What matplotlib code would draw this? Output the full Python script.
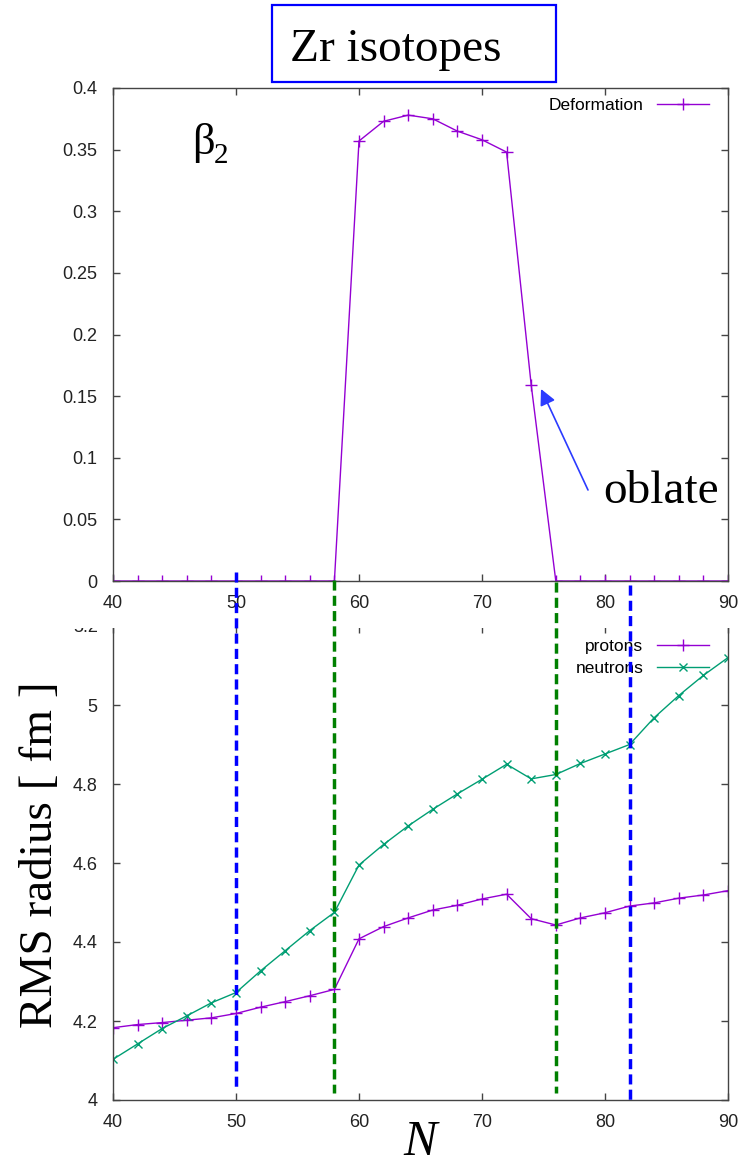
import matplotlib
matplotlib.use("Agg")
import matplotlib.pyplot as plt
from matplotlib.patches import Rectangle
from matplotlib.lines import Line2D

# neutron numbers of the Zr chain
N = list(range(40, 92, 2))

beta2 = [0, 0, 0, 0, 0, 0, 0, 0, 0, 0,
         0.357, 0.373, 0.378, 0.375, 0.365, 0.358, 0.348, 0.159, 0,
         0, 0, 0, 0, 0, 0, 0]

r_protons = [4.183, 4.191, 4.196, 4.202, 4.208, 4.219, 4.235, 4.249, 4.264, 4.280,
             4.408, 4.439, 4.461, 4.481, 4.493, 4.509, 4.521, 4.459, 4.443,
             4.461, 4.474, 4.491, 4.499, 4.511, 4.519, 4.530]

r_neutrons = [4.103, 4.142, 4.181, 4.213, 4.246, 4.272, 4.327, 4.378, 4.429, 4.475,
              4.595, 4.647, 4.694, 4.736, 4.775, 4.812, 4.850, 4.813, 4.824,
              4.852, 4.876, 4.900, 4.968, 5.024, 5.075, 5.120]

beta_ticks = [0, 0.05, 0.1, 0.15, 0.2, 0.25, 0.3, 0.35, 0.4]
beta_ticklabels = ["0", "0.05", "0.1", "0.15", "0.2", "0.25", "0.3", "0.35", "0.4"]
rms_ticks = [4.0, 4.2, 4.4, 4.6, 4.8, 5.0, 5.2]
rms_ticklabels = ["4", "4.2", "4.4", "4.6", "4.8", "5", "5.2"]
n_ticks = [40, 50, 60, 70, 80, 90]

# shell closures (blue) and shape transitions (green)
magic_N = [50, 82]
transition_N = [58, 76]

W, H = 751, 1167
PURPLE = "#9400D3"
GREEN = "#009E73"
SPINE = "#444444"
TICKFONT = "Liberation Sans"
SERIF = "Liberation Serif"


def fx(x):
    return x / W


def fy(y):
    return 1 - y / H


def style_axes(ax):
    for s in ax.spines.values():
        s.set_color(SPINE)
        s.set_linewidth(1.0)
    ax.tick_params(direction="in", length=5, width=1, color=SPINE,
                   top=True, right=True, labelsize=13, labelcolor="#222222")
    ax.tick_params(axis="x", pad=10)
    ax.tick_params(axis="y", pad=11)
    for lab in ax.get_xticklabels() + ax.get_yticklabels():
        lab.set_fontfamily(TICKFONT)


fig = plt.figure(figsize=(W / 100, H / 100), dpi=100)

# lower panel: RMS radii
ax2 = fig.add_axes([fx(113), fy(1100), fx(728) - fx(113), fy(626) - fy(1100)], zorder=0)
ax2.plot(N, r_protons, color=PURPLE, lw=1.0, marker="+", ms=8, mew=1.0, label="protons")
ax2.plot(N, r_neutrons, color=GREEN, lw=1.0, marker="x", ms=6, mew=1.0, label="neutrons")
ax2.set_xlim(40, 90)
ax2.set_ylim(4.0, 5.2)
ax2.set_xticks(n_ticks)
ax2.set_yticks(rms_ticks)
ax2.set_yticklabels(rms_ticklabels)
style_axes(ax2)
ax2.legend(loc="upper right", bbox_to_anchor=(0.995, 1.005), frameon=False,
           markerfirst=False, handlelength=3.0, labelspacing=0.35,
           prop={"family": TICKFONT, "size": 12.5})
fig.text(fx(41), fy(855), "RMS radius [ fm ]", family=SERIF, fontsize=34,
         rotation=90, ha="center", va="center")
ax2.set_xlabel("N", family=SERIF, style="italic", fontsize=36, labelpad=-8)

# white strip that hides the top of the lower panel
fig.patches.append(Rectangle((0, fy(628)), 1, fy(583) - fy(628), transform=fig.transFigure,
                             facecolor="white", edgecolor="none", zorder=1))

# upper panel: deformation
ax1 = fig.add_axes([fx(113), fy(581), fx(728) - fx(113), fy(88) - fy(581)], zorder=2)
ax1.plot(N, beta2, color=PURPLE, lw=1.0, marker="+", ms=8, mew=1.0, label="Deformation")
ax1.set_xlim(40, 90)
ax1.set_ylim(0, 0.4)
ax1.set_xticks(n_ticks)
ax1.set_yticks(beta_ticks)
ax1.set_yticklabels(beta_ticklabels)
style_axes(ax1)
ax1.legend(loc="upper right", bbox_to_anchor=(0.995, 1.012), frameon=False,
           markerfirst=False, handlelength=3.0, prop={"family": TICKFONT, "size": 12.5})
ax1.patch.set_alpha(0)

# beta_2 label
fig.text(fx(192), fy(154), "β", family=SERIF, fontsize=32, ha="left", va="baseline")
fig.text(fx(214), fy(163), "2", family=SERIF, fontsize=21, ha="left", va="baseline")

# oblate annotation
fig.text(fx(603), fy(503), "oblate", family=SERIF, fontsize=34, ha="left", va="baseline")
ax1.annotate("", xy=(fx(541), fy(389)), xycoords="figure fraction",
             xytext=(fx(588), fy(490)), textcoords="figure fraction",
             arrowprops=dict(arrowstyle="-|>", color="#2B3BFF", lw=1.2,
                             mutation_scale=24, shrinkA=0, shrinkB=0))

# title box
fig.patches.append(Rectangle((fx(272), fy(82)), fx(556) - fx(272), fy(5) - fy(82),
                             transform=fig.transFigure, facecolor="white",
                             edgecolor="#0000FF", lw=1.6, zorder=3))
fig.text(fx(396), fy(61), "Zr isotopes", family=SERIF, fontsize=34,
         ha="center", va="baseline", zorder=4)

# vertical dashed guide lines across both panels
spans = {50: (572, 1088), 82: (585, 1100), 58: (580, 1093), 76: (582, 1093)}
for n in magic_N + transition_N:
    col = "#0000FF" if n in magic_N else "#008000"
    y0, y1 = spans[n]
    xf = fig.transFigure.inverted().transform(ax2.transData.transform((n, 4.5)))[0]
    fig.lines.append(Line2D([xf, xf], [fy(y0), fy(y1)], transform=fig.transFigure,
                            color=col, lw=2.5, linestyle=(0, (2.9, 1.5)), zorder=5))

fig.savefig("out.png", dpi=100)
